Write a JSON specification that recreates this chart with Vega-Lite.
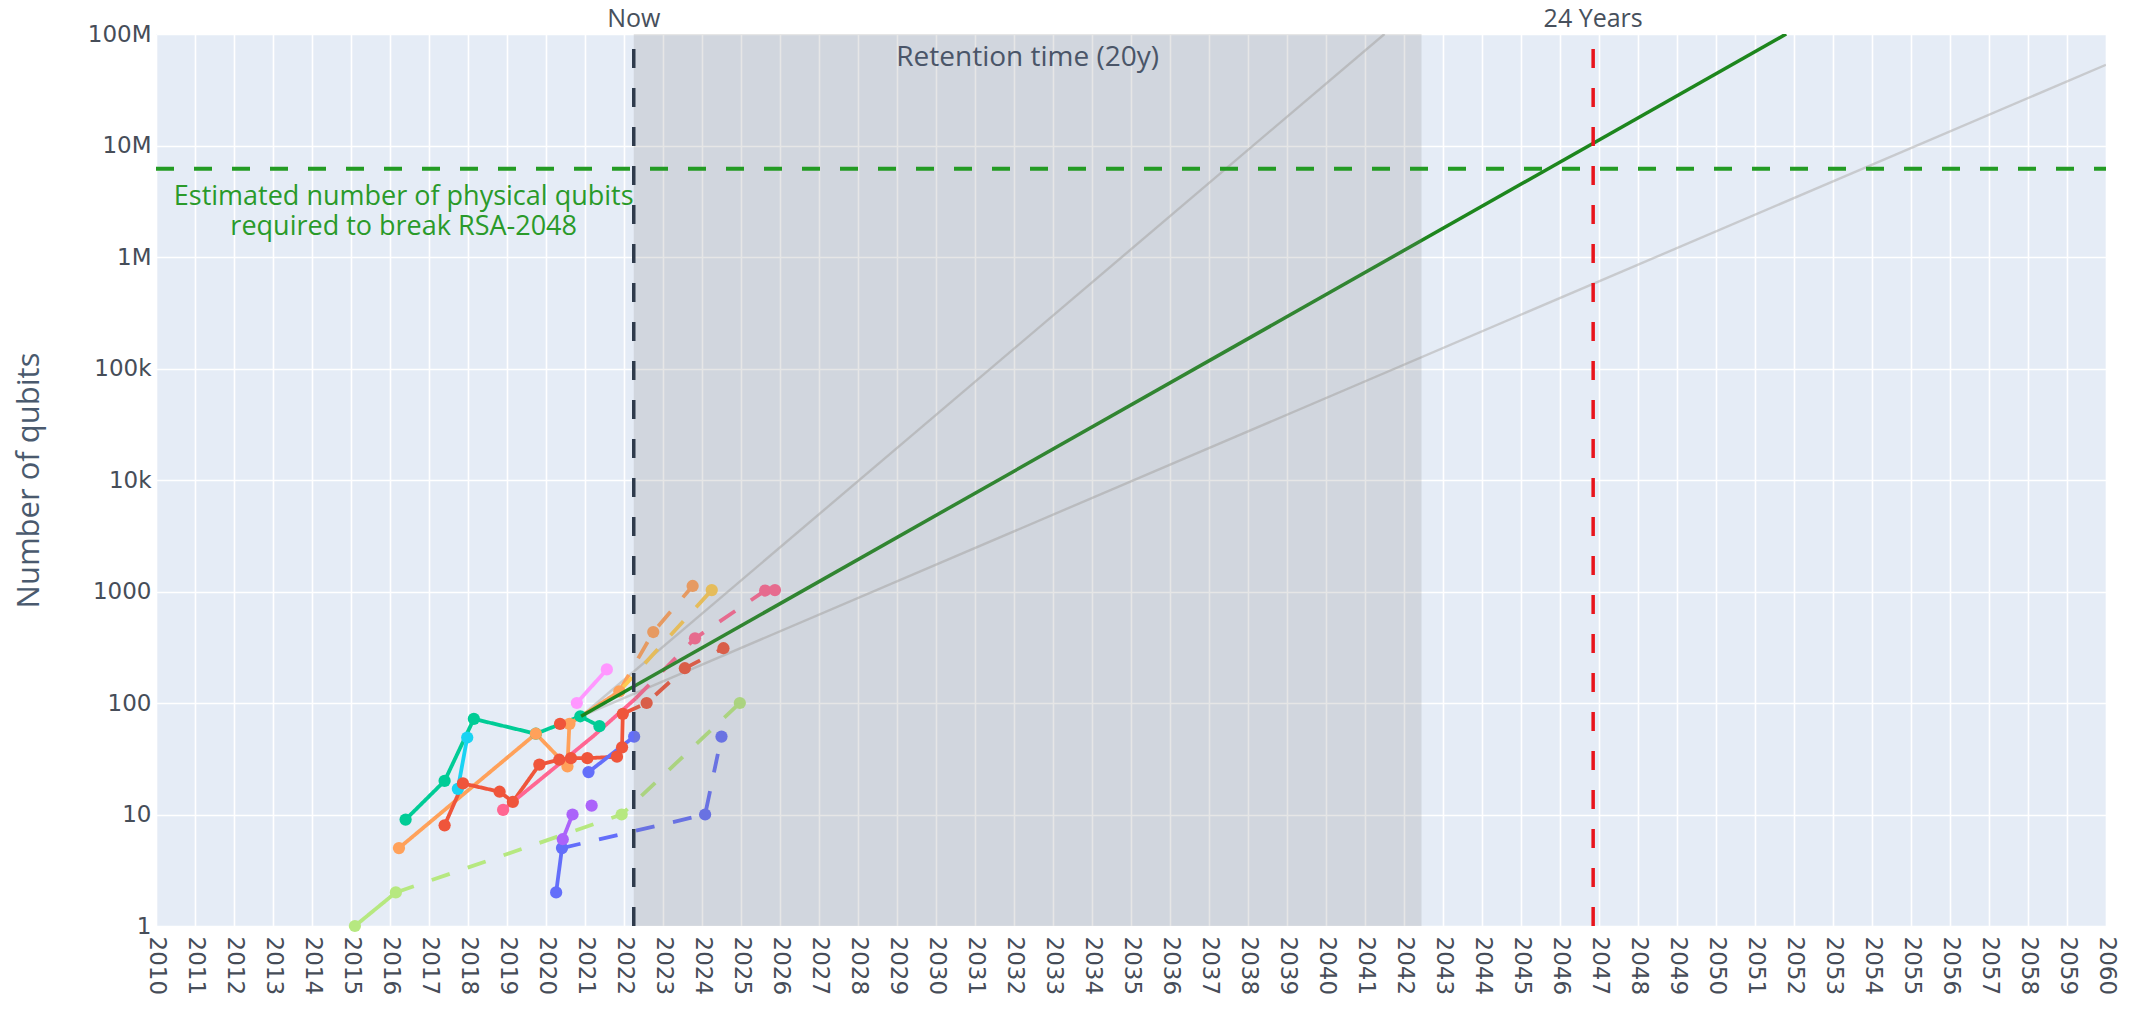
{
  "$schema": "https://vega.github.io/schema/vega-lite/v6.json",
  "width": 1950,
  "height": 892,
  "autosize": {"type": "none"},
  "padding": {"left": 156, "top": 34, "right": 24, "bottom": 83},
  "background": "white",
  "config": {
    "view": {"fill": "#E5ECF6", "stroke": null},
    "axis": {
      "domain": false,
      "ticks": false,
      "gridColor": "white",
      "gridWidth": 1.6,
      "gridOpacity": 1,
      "labelFont": "DejaVu Sans",
      "labelFontSize": 23,
      "labelColor": "#464d58",
      "labelOverlap": false,
      "labelFlush": false,
      "labelBound": false
    }
  },
  "datasets": {
    "pts": [
      {"s": "Google", "x": 2016.4, "y": 9, "m": true},
      {"s": "Google", "x": 2017.4, "y": 20, "m": true},
      {"s": "Google", "x": 2018.15, "y": 72, "m": true},
      {"s": "Google", "x": 2019.74, "y": 53, "m": true},
      {"s": "Google", "x": 2020.88, "y": 76, "m": true},
      {"s": "Google", "x": 2021.37, "y": 62, "m": true},
      {"s": "Intel", "x": 2017.74, "y": 17, "m": true},
      {"s": "Intel", "x": 2017.98, "y": 49, "m": true},
      {"s": "IBM", "x": 2016.23, "y": 5, "m": true},
      {"s": "IBM", "x": 2019.74, "y": 53, "m": true},
      {"s": "IBM", "x": 2020.55, "y": 27, "m": true},
      {"s": "IBM", "x": 2020.6, "y": 65, "m": true},
      {"s": "IBM", "x": 2021.88, "y": 127, "m": true},
      {"s": "IBM roadmap", "x": 2021.88, "y": 127, "m": false},
      {"s": "IBM roadmap", "x": 2022.75, "y": 433, "m": true},
      {"s": "IBM roadmap", "x": 2023.76, "y": 1121, "m": true},
      {"s": "IBM roadmap 2", "x": 2021.88, "y": 127, "m": false},
      {"s": "IBM roadmap 2", "x": 2024.25, "y": 1030, "m": true},
      {"s": "Rigetti", "x": 2017.4, "y": 8, "m": true},
      {"s": "Rigetti", "x": 2017.87, "y": 19, "m": true},
      {"s": "Rigetti", "x": 2018.81, "y": 16, "m": true},
      {"s": "Rigetti", "x": 2019.15, "y": 13, "m": true},
      {"s": "Rigetti", "x": 2019.83, "y": 28, "m": true},
      {"s": "Rigetti", "x": 2020.34, "y": 31, "m": true},
      {"s": "Rigetti", "x": 2020.64, "y": 32, "m": true},
      {"s": "Rigetti", "x": 2021.06, "y": 32, "m": true},
      {"s": "Rigetti", "x": 2021.82, "y": 33, "m": true},
      {"s": "Rigetti", "x": 2021.95, "y": 40, "m": true},
      {"s": "Rigetti", "x": 2021.97, "y": 80, "m": true},
      {"s": "Rigetti roadmap", "x": 2021.97, "y": 80, "m": false},
      {"s": "Rigetti roadmap", "x": 2022.58, "y": 100, "m": true},
      {"s": "Rigetti roadmap", "x": 2023.56, "y": 205, "m": true},
      {"s": "Rigetti roadmap", "x": 2024.55, "y": 310, "m": true},
      {"s": "Rigetti other", "x": 2020.36, "y": 65, "m": true},
      {"s": "IonQ", "x": 2018.9, "y": 11, "m": true},
      {"s": "IonQ", "x": 2021.2, "y": 50, "m": false},
      {"s": "IonQ", "x": 2022.3, "y": 110, "m": false},
      {"s": "IonQ roadmap", "x": 2022.3, "y": 110, "m": false},
      {"s": "IonQ roadmap", "x": 2023.82, "y": 380, "m": true},
      {"s": "IonQ roadmap", "x": 2025.62, "y": 1020, "m": true},
      {"s": "IonQ roadmap", "x": 2025.87, "y": 1030, "m": true},
      {"s": "Honeywell", "x": 2020.79, "y": 100, "m": true},
      {"s": "Honeywell", "x": 2021.56, "y": 200, "m": true},
      {"s": "Alibaba", "x": 2020.26, "y": 2, "m": true},
      {"s": "Alibaba", "x": 2020.41, "y": 5, "m": true},
      {"s": "Alibaba 2", "x": 2021.09, "y": 24, "m": true},
      {"s": "Alibaba 2", "x": 2022.26, "y": 50, "m": true},
      {"s": "Alibaba roadmap", "x": 2020.41, "y": 5, "m": false},
      {"s": "Alibaba roadmap", "x": 2024.08, "y": 10, "m": true},
      {"s": "Alibaba roadmap", "x": 2024.5, "y": 50, "m": true},
      {"s": "Xanadu", "x": 2020.43, "y": 6, "m": true},
      {"s": "Xanadu", "x": 2020.68, "y": 10, "m": true},
      {"s": "Xanadu 2", "x": 2021.17, "y": 12, "m": true},
      {"s": "D-Wave", "x": 2015.1, "y": 1, "m": true},
      {"s": "D-Wave", "x": 2016.15, "y": 2, "m": true},
      {"s": "D-Wave roadmap", "x": 2016.15, "y": 2, "m": false},
      {"s": "D-Wave roadmap", "x": 2021.94, "y": 10, "m": true},
      {"s": "D-Wave roadmap", "x": 2024.97, "y": 100, "m": true}
    ],
    "fits": [
      {"f": "fast", "x": 2020.9, "y": 76},
      {"f": "fast", "x": 2041.5, "y": 100000000},
      {"f": "slow", "x": 2020.9, "y": 76},
      {"f": "slow", "x": 2060, "y": 53000000}
    ],
    "trend": [
      {"f": "trend", "x": 2020.9, "y": 76},
      {"f": "trend", "x": 2051.8, "y": 100000000}
    ],
    "retention": [
      {"x": 2022.25, "x2": 2042.45, "y": 1, "y2": 100000000}
    ],
    "retentionLabel": [
      {"x": 2032.35, "y": 100000000, "label": "Retention time (20y)"}
    ],
    "vlines": [
      {"name": "Now", "x": 2022.25, "y": 1, "y2": 100000000},
      {"name": "24 Years", "x": 2046.85, "y": 1, "y2": 100000000}
    ],
    "vlabels": [
      {"name": "Now", "x": 2022.25, "y": 100000000},
      {"name": "24 Years", "x": 2046.85, "y": 100000000}
    ],
    "rsa": [
      {"x": 2010, "x2": 2060, "y": 6200000}
    ],
    "rsaLabel": [
      {"x": 2016.35, "y": 6200000, "label": ["Estimated number of physical qubits", "required to break RSA-2048"]}
    ]
  },
  "encoding": {
    "x": {"field": "x", "type": "quantitative", "title": null,
          "scale": {"domain": [2010, 2060], "nice": false, "zero": false},
          "axis": {"values": [2010,2011,2012,2013,2014,2015,2016,2017,2018,2019,2020,2021,2022,2023,2024,2025,2026,2027,2028,2029,2030,2031,2032,2033,2034,2035,2036,2037,2038,2039,2040,2041,2042,2043,2044,2045,2046,2047,2048,2049,2050,2051,2052,2053,2054,2055,2056,2057,2058,2059,2060],
                   "tickCount": 51,
                   "format": "d", "labelAngle": 90, "labelPadding": 10}},
    "y": {"field": "y", "type": "quantitative", "title": "Number of qubits",
          "scale": {"type": "log", "domain": [1, 100000000], "nice": false},
          "axis": {"values": [1,10,100,1000,10000,100000,1000000,10000000,100000000],
                   "labelExpr": "datum.value >= 1e6 ? format(datum.value/1e6, 'd') + 'M' : datum.value >= 1e4 ? format(datum.value/1e3, 'd') + 'k' : format(datum.value, 'd')",
                   "labelPadding": 5,
                   "titleFont": "Open Sans", "titleFontSize": 31, "titleFontWeight": "normal", "titleColor": "#4a5a6e",
                   "titleX": -127, "titleY": 446, "titleAngle": -90, "titleAlign": "center", "titleBaseline": "middle"}}
  },
  "layer": [
    {
      "data": {"name": "fits"},
      "mark": {"type": "line", "strokeWidth": 2.4, "color": "#b4b4b4", "opacity": 0.6, "clip": true},
      "encoding": {
        "detail": {"field": "f", "type": "nominal"}
      }
    },
    {
      "data": {"name": "pts"},
      "mark": {"type": "line", "strokeWidth": 3.8},
      "encoding": {
        "color": {"field": "s", "type": "nominal", "legend": null,
                  "scale": {"domain": ["Google","Intel","IBM","IBM roadmap","IBM roadmap 2","Rigetti","Rigetti roadmap","Rigetti other","IonQ","IonQ roadmap","Honeywell","Alibaba","Alibaba 2","Alibaba roadmap","Xanadu","Xanadu 2","D-Wave","D-Wave roadmap"],
                            "range": ["#00cc96","#19d3f3","#FFA15A","#FFA15A","#FECB52","#EF553B","#EF553B","#EF553B","#FF6692","#FF6692","#FF97FF","#636efa","#636efa","#636efa","#ab63fa","#ab63fa","#B6E880","#B6E880"]}},
        "strokeDash": {"field": "s", "type": "nominal", "legend": null,
                  "scale": {"domain": ["Google","Intel","IBM","IBM roadmap","IBM roadmap 2","Rigetti","Rigetti roadmap","Rigetti other","IonQ","IonQ roadmap","Honeywell","Alibaba","Alibaba 2","Alibaba roadmap","Xanadu","Xanadu 2","D-Wave","D-Wave roadmap"],
                            "range": [[1,0],[1,0],[1,0],[19,19],[19,19],[1,0],[19,19],[1,0],[1,0],[19,19],[1,0],[1,0],[1,0],[19,19],[1,0],[1,0],[1,0],[19,19]]}},
        "order": {"field": "x", "type": "quantitative"}
      }
    },
    {
      "data": {"name": "pts"},
      "transform": [{"filter": "datum.m"}],
      "mark": {"type": "circle", "size": 150, "opacity": 1},
      "encoding": {
        "color": {"field": "s", "type": "nominal", "legend": null}
      }
    },
    {
      "data": {"name": "trend"},
      "mark": {"type": "line", "strokeWidth": 3.5, "color": "#1d861d", "clip": true},
      "encoding": {}
    },
    {
      "data": {"name": "retention"},
      "mark": {"type": "rect", "color": "#808080", "opacity": 0.2},
      "encoding": {
        "x2": {"field": "x2"},
        "y2": {"field": "y2"}
      }
    },
    {
      "data": {"name": "retentionLabel"},
      "mark": {"type": "text", "font": "Open Sans", "fontSize": 28, "color": "#4a5568", "baseline": "alphabetic", "align": "center", "dy": 32},
      "encoding": {
        "text": {"field": "label"}
      }
    },
    {
      "data": {"name": "rsa"},
      "mark": {"type": "rule", "strokeWidth": 4, "strokeDash": [18, 20], "color": "#239b23"},
      "encoding": {
        "x2": {"field": "x2"}
      }
    },
    {
      "data": {"name": "rsaLabel"},
      "mark": {"type": "text", "font": "Open Sans", "fontSize": 27, "color": "#2a9a2a", "baseline": "middle", "align": "center", "dy": 28, "lineHeight": 30},
      "encoding": {
        "text": {"field": "label"}
      }
    },
    {
      "data": {"name": "vlines"},
      "transform": [{"filter": "datum.name == 'Now'"}],
      "mark": {"type": "rule", "strokeWidth": 3.5, "strokeDash": [19, 20], "color": "#2f3b4c"},
      "encoding": {
        "y2": {"field": "y2"}
      }
    },
    {
      "data": {"name": "vlines"},
      "transform": [{"filter": "datum.name == '24 Years'"}],
      "mark": {"type": "rule", "strokeWidth": 3.5, "strokeDash": [19, 20], "color": "#e8141c"},
      "encoding": {
        "y2": {"field": "y2"}
      }
    },
    {
      "data": {"name": "vlabels"},
      "mark": {"type": "text", "font": "Open Sans", "fontSize": 25, "color": "#47505c", "baseline": "alphabetic", "align": "center", "dy": -7},
      "encoding": {
        "text": {"field": "name"}
      }
    }
  ]
}
